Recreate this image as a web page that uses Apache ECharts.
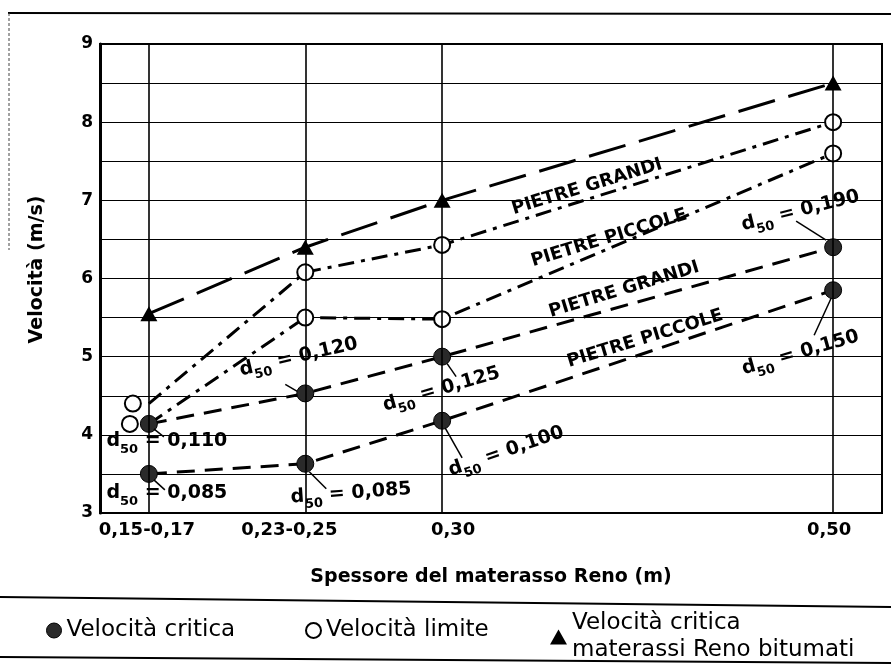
<!DOCTYPE html>
<html>
<head>
<meta charset="utf-8">
<script src="https://cdn.jsdelivr.net/npm/echarts@6/dist/echarts.min.js"></script>
<style>
html,body{margin:0;padding:0;background:#fff;}
#chart{width:891px;height:664px;}
</style>
</head>
<body>
<div id="chart"></div>
<script>
// spessore del materasso (m): posizione sull'asse ed etichette
var xPos = [0.16, 0.24, 0.31, 0.51];
var xLabels = ['0,15-0,17', '0,23-0,25', '0,30', '0,50'];
var yTicks = [3, 4, 5, 6, 7, 8, 9];

// velocita (m/s)
var critPiccole = [3.5, 3.63, 4.18, 5.85];
var critGrandi = [4.14, 4.53, 5.0, 6.4];
var limPiccole = [4.14, 5.5, 5.48, 7.6];
var limGrandi = [4.4, 6.08, 6.43, 8.0];
var bitumati = [5.55, 6.4, 7.0, 8.5];

// d50 dei punti di velocita critica
var d50Piccole = ['0,085', '0,085', '0,100', '0,150'];
var d50Grandi = ['0,110', '0,120', '0,125', '0,190'];

var nomeCrit = 'Velocità critica';
var nomeLim = 'Velocità limite';
var nomeBit = 'Velocità critica\nmaterassi Reno bitumati';

var FONT = 'DejaVu Sans';
var labelShift = [-2, -16, 11, -4];

function pts(arr, off) {
  return arr.map(function (v, i) {
    if (off && i === 0) return {value: [xPos[i], v], symbolOffset: [off, 0]};
    return [xPos[i], v];
  });
}

var critStyle = {
  type: 'line', name: nomeCrit, symbol: 'circle', symbolSize: 17,
  itemStyle: {color: '#2a2a2a', borderColor: '#000', borderWidth: 1},
  lineStyle: {color: '#000', width: 3, type: [18, 10]}, z: 4
};
var limStyle = {
  type: 'line', name: nomeLim, symbol: 'circle', symbolSize: 16,
  itemStyle: {color: '#fff', borderColor: '#000', borderWidth: 2},
  lineStyle: {color: '#000', width: 3, type: [16, 7, 4, 7]}, z: 3
};

var rich = {};
labelShift.forEach(function (s, i) {
  rich['s' + i] = {
    fontFamily: FONT, fontWeight: 'bold', fontSize: 18, color: '#000',
    padding: s < 0 ? [0, -2 * s, 0, 0] : [0, 0, 0, 2 * s]
  };
});

var legendText = {fontFamily: FONT, fontSize: 23, color: '#000', lineHeight: 27};

var option = {
  backgroundColor: '#fff',
  animation: false,
  grid: {left: 100, right: 9, top: 44, bottom: 151, show: true, borderColor: '#000', borderWidth: 2},
  xAxis: {
    type: 'value', min: 0.135, max: 0.535,
    name: 'Spessore del materasso Reno (m)', nameLocation: 'middle', nameGap: 55,
    nameTextStyle: {fontFamily: FONT, fontWeight: 'bold', fontSize: 19, color: '#000'},
    axisLine: {lineStyle: {color: '#000', width: 2}},
    axisTick: {show: false},
    splitLine: {show: false},
    axisLabel: {
      customValues: xPos, margin: 8,
      formatter: function (v) {
        for (var i = 0; i < xPos.length; i++) {
          if (Math.abs(xPos[i] - v) < 1e-6) return '{s' + i + '|' + xLabels[i] + '}';
        }
        return '';
      },
      rich: rich
    }
  },
  yAxis: {
    type: 'value', min: 3, max: 9, interval: 0.5,
    name: 'Velocità (m/s)', nameLocation: 'middle', nameGap: 53,
    nameTextStyle: {fontFamily: FONT, fontWeight: 'bold', fontSize: 19, color: '#000', padding: [0, 0, 0, 18]},
    axisLine: {show: true, lineStyle: {color: '#000', width: 3}},
    axisTick: {show: false},
    splitLine: {lineStyle: {color: '#000', width: 1.2}},
    axisLabel: {
      margin: 7, fontFamily: FONT, fontWeight: 'bold', fontSize: 17, color: '#000',
      formatter: function (v) { return yTicks.indexOf(v) >= 0 ? String(v) : ''; }
    }
  },
  legend: [
    {left: 41, top: 612, selectedMode: false, itemWidth: 15, itemHeight: 15, textStyle: legendText,
      data: [{name: nomeCrit, icon: 'circle', itemStyle: {color: '#2a2a2a', borderColor: '#000', borderWidth: 1}}]},
    {left: 300, top: 612, selectedMode: false, itemWidth: 15, itemHeight: 15, textStyle: legendText,
      data: [{name: nomeLim, icon: 'circle', itemStyle: {color: '#fff', borderColor: '#000', borderWidth: 2}}]},
    {left: 545, top: 605, selectedMode: false, itemWidth: 17, itemHeight: 15, textStyle: legendText,
      data: [{name: nomeBit, icon: 'triangle', itemStyle: {color: '#000'}}]}
  ],
  series: [
    {
      type: 'line', name: nomeBit, data: pts(bitumati), symbol: 'triangle', symbolSize: [17, 15],
      itemStyle: {color: '#000'}, lineStyle: {color: '#000', width: 3, type: [38, 14]}, z: 3,
      markLine: {
        silent: true, symbol: ['none', 'none'], label: {show: false},
        lineStyle: {color: '#000', width: 1.6, type: 'solid'},
        data: xPos.map(function (v) { return {xAxis: v}; })
      }
    },
    Object.assign({}, limStyle, {data: pts(limGrandi, -16)}),
    Object.assign({}, limStyle, {data: pts(limPiccole, -19)}),
    Object.assign({}, critStyle, {data: pts(critGrandi)}),
    Object.assign({}, critStyle, {data: pts(critPiccole)})
  ]
};

var chart = echarts.init(document.getElementById('chart'));
chart.setOption(option);

function px(x, y) { return chart.convertToPixel({gridIndex: 0}, [x, y]); }

// posizione delle scritte d50 rispetto al punto (px), rotazione (gradi), linea guida
var d50Layout = [
  {serie: critGrandi, txt: d50Grandi, i: 0, dx: 18, dy: 20, rot: 0, l: [5, 5, 15, 13]},
  {serie: critPiccole, txt: d50Piccole, i: 0, dx: 18, dy: 22, rot: 0, l: [5, 6, 16, 16]},
  {serie: critGrandi, txt: d50Grandi, i: 1, dx: -6, dy: -34, rot: 13, l: [-8, -2, -20, -9]},
  {serie: critGrandi, txt: d50Grandi, i: 2, dx: 0, dy: 35, rot: 16, l: [5, 7, 14, 20]},
  {serie: critPiccole, txt: d50Piccole, i: 2, dx: 65, dy: 33, rot: 19, l: [3, 7, 20, 37]},
  {serie: critPiccole, txt: d50Piccole, i: 1, dx: 46, dy: 32, rot: 4, l: [4, 8, 21, 25]},
  {serie: critGrandi, txt: d50Grandi, i: 3, dx: -32, dy: -34, rot: 14, l: [-37, -26, -7, -7]},
  {serie: critPiccole, txt: d50Piccole, i: 3, dx: -32, dy: 65, rot: 16, l: [-2, 8, -19, 45]}
];

var pietre = [
  {serie: limGrandi, i: 2, text: 'PIETRE GRANDI', dx: 145, dy: -58},
  {serie: limPiccole, i: 2, text: 'PIETRE PICCOLE', dx: 167, dy: -81},
  {serie: critGrandi, i: 2, text: 'PIETRE GRANDI', dx: 182, dy: -67},
  {serie: critPiccole, i: 2, text: 'PIETRE PICCOLE', dx: 203, dy: -82}
];

var g = [];
d50Layout.forEach(function (a) {
  var p = px(xPos[a.i], a.serie[a.i]);
  g.push({
    type: 'text', x: p[0] + a.dx, y: p[1] + a.dy, rotation: a.rot * Math.PI / 180, z: 10,
    style: {
      text: '{d|d}{s|50}{d| = ' + a.txt[a.i] + '}',
      align: 'center', verticalAlign: 'middle',
      rich: {
        d: {fontFamily: FONT, fontWeight: 'bold', fontSize: 19, color: '#000', verticalAlign: 'bottom', padding: [0, 0, 5, 0]},
        s: {fontFamily: FONT, fontWeight: 'bold', fontSize: 13, color: '#000', verticalAlign: 'bottom'}
      }
    }
  });
  g.push({
    type: 'line', z: 10,
    shape: {x1: p[0] + a.l[0], y1: p[1] + a.l[1], x2: p[0] + a.l[2], y2: p[1] + a.l[3]},
    style: {stroke: '#000', lineWidth: 1.5}
  });
});
pietre.forEach(function (a) {
  var p = px(xPos[a.i], a.serie[a.i]);
  g.push({
    type: 'text', x: p[0] + a.dx, y: p[1] + a.dy, rotation: 17 * Math.PI / 180, z: 10,
    style: {text: a.text, align: 'center', verticalAlign: 'middle',
      fontFamily: FONT, fontWeight: 'bold', fontSize: 18, fill: '#000'}
  });
});
// cornice della figura
g.push({type: 'line', shape: {x1: 8, y1: 13, x2: 891, y2: 14}, style: {stroke: '#000', lineWidth: 2}});
g.push({type: 'line', shape: {x1: 9, y1: 13, x2: 9, y2: 250}, style: {stroke: '#444', lineWidth: 1, lineDash: [3, 2]}});
g.push({type: 'line', shape: {x1: 0, y1: 597, x2: 891, y2: 607}, style: {stroke: '#000', lineWidth: 2}});
g.push({type: 'line', shape: {x1: 0, y1: 657, x2: 891, y2: 663}, style: {stroke: '#000', lineWidth: 2}});

chart.setOption({graphic: g});
</script>
</body>
</html>
